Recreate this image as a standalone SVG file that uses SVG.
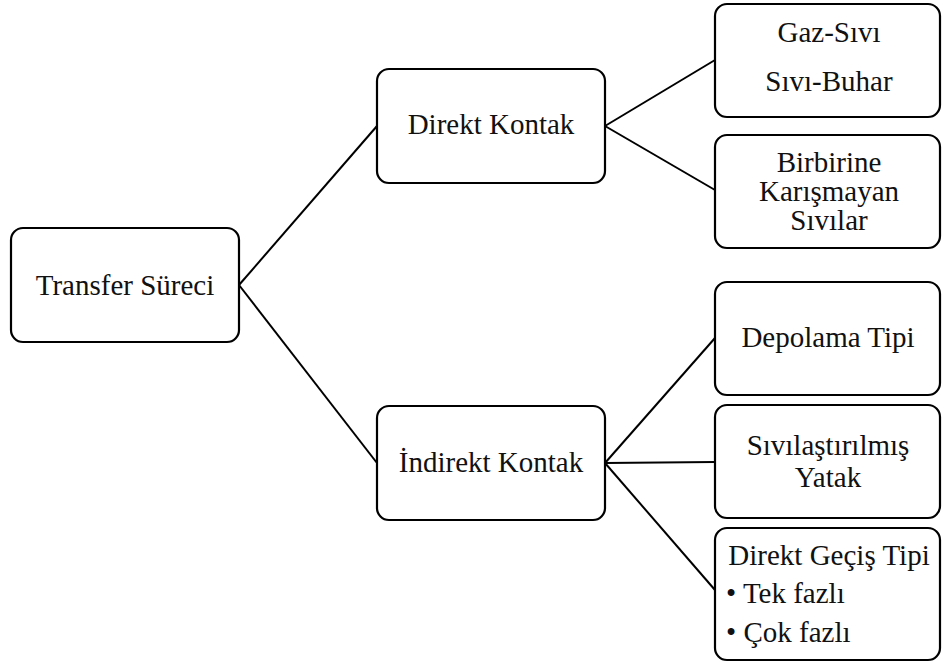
<svg xmlns="http://www.w3.org/2000/svg" width="942" height="663" viewBox="0 0 942 663">
  <style>
    .box { fill: #ffffff; stroke: #000000; stroke-width: 2.2; }
    .lbl { font-family: 'Liberation Serif', 'Times New Roman', Tinos, 'DejaVu Serif', serif; font-size: 29px; fill: #111111; text-anchor: middle; }
    .left { text-anchor: start; }
    .link { stroke: #000000; stroke-width: 2; fill: none; }
  </style>
  <rect width="942" height="663" fill="#ffffff"/>

  <g id="connectors">
    <line class="link" x1="239" y1="285" x2="377" y2="126"/>
    <line class="link" x1="239" y1="285" x2="377" y2="463"/>
    <line class="link" x1="605" y1="126" x2="715" y2="60"/>
    <line class="link" x1="605" y1="126" x2="715" y2="190"/>
    <line class="link" x1="605" y1="463" x2="715" y2="338"/>
    <line class="link" x1="605" y1="463" x2="715" y2="462"/>
    <line class="link" x1="605" y1="463" x2="715" y2="590"/>
  </g>

  <g id="transfer-sureci">
    <rect class="box" x="11" y="228" width="228" height="114" rx="12"/>
    <text class="lbl" font-family="Liberation Serif, serif" x="125" y="295">Transfer Süreci</text>
  </g>

  <g id="direkt-kontak">
    <rect class="box" x="377" y="69" width="228" height="114" rx="12"/>
    <text class="lbl" x="491" y="134">Direkt Kontak</text>
  </g>

  <g id="indirekt-kontak">
    <rect class="box" x="377" y="406" width="228" height="114" rx="12"/>
    <text class="lbl" x="491" y="472">İndirekt Kontak</text>
  </g>

  <g id="gaz-sivi">
    <rect class="box" x="715" y="4" width="225" height="113" rx="12"/>
    <text class="lbl" x="829" y="42">Gaz-Sıvı</text>
    <text class="lbl" x="829" y="91">Sıvı-Buhar</text>
  </g>

  <g id="birbirine-karismayan">
    <rect class="box" x="715" y="135" width="225" height="113" rx="12"/>
    <text class="lbl" x="829" y="172">Birbirine</text>
    <text class="lbl" x="829" y="201">Karışmayan</text>
    <text class="lbl" x="829" y="230">Sıvılar</text>
  </g>

  <g id="depolama-tipi">
    <rect class="box" x="715" y="282" width="225" height="113" rx="12"/>
    <text class="lbl" x="828" y="347">Depolama Tipi</text>
  </g>

  <g id="sivilastirilmis-yatak">
    <rect class="box" x="715" y="405" width="225" height="113" rx="12"/>
    <text class="lbl" x="828" y="455">Sıvılaştırılmış</text>
    <text class="lbl" x="828" y="487">Yatak</text>
  </g>

  <g id="direkt-gecis-tipi">
    <rect class="box" x="715" y="528" width="225" height="132" rx="12"/>
    <text class="lbl" x="829" y="565">Direkt Geçiş Tipi</text>
    <text class="lbl left" x="726" y="603">• Tek fazlı</text>
    <text class="lbl left" x="726" y="642">• Çok fazlı</text>
  </g>
</svg>
